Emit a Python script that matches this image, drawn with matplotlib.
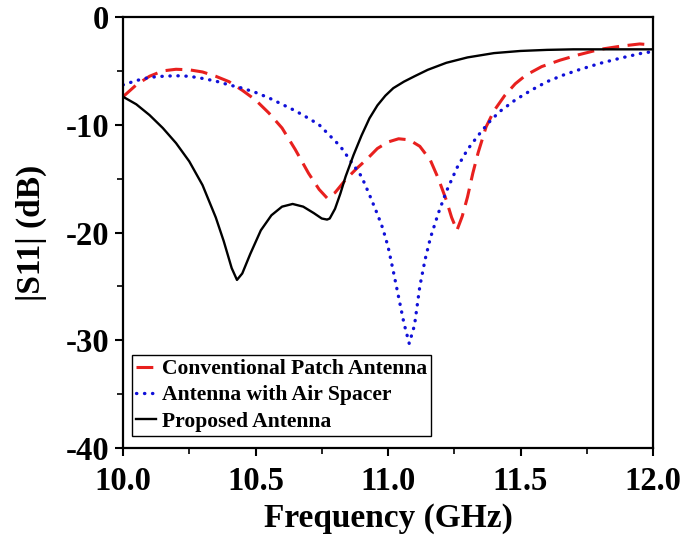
import numpy as np
import matplotlib
matplotlib.use("Agg")
import matplotlib.pyplot as plt
from matplotlib.ticker import MultipleLocator, FuncFormatter

plt.rcParams['font.family'] = ['Liberation Serif', 'DejaVu Serif']
plt.rcParams['font.weight'] = 'bold'

# frequency (GHz) / |S11| (dB)
freq_prop = [10.00, 10.05, 10.10, 10.15, 10.20, 10.25, 10.30, 10.35, 10.38, 10.41,
             10.43, 10.45, 10.48, 10.52, 10.56, 10.60, 10.64, 10.68, 10.72, 10.75,
             10.77, 10.78, 10.80, 10.82, 10.84, 10.87, 10.90, 10.93, 10.96, 10.99,
             11.02, 11.06, 11.10, 11.15, 11.22, 11.30, 11.40, 11.50, 11.60, 11.70,
             11.80, 11.90, 12.00]
s11_prop = [-7.4, -8.1, -9.1, -10.3, -11.7, -13.4, -15.6, -18.6, -20.8, -23.3,
            -24.4, -23.8, -22.0, -19.8, -18.4, -17.6, -17.35, -17.6, -18.2, -18.7,
            -18.8, -18.7, -17.8, -16.4, -14.8, -12.8, -11.0, -9.4, -8.2, -7.3,
            -6.6, -6.0, -5.5, -4.9, -4.25, -3.75, -3.35, -3.15, -3.05, -3.0,
            -3.0, -3.0, -3.0]

freq_conv = [10.00, 10.05, 10.10, 10.15, 10.20, 10.25, 10.30, 10.35, 10.40, 10.45,
             10.50, 10.55, 10.60, 10.65, 10.70, 10.74, 10.77, 10.80, 10.84, 10.88,
             10.92, 10.96, 11.00, 11.04, 11.08, 11.12, 11.16, 11.19, 11.22, 11.24,
             11.26, 11.28, 11.30, 11.32, 11.34, 11.37, 11.40, 11.44, 11.48, 11.52,
             11.58, 11.65, 11.72, 11.80, 11.88, 11.95, 12.00]
s11_conv = [-7.4, -6.3, -5.5, -5.0, -4.85, -4.9, -5.1, -5.5, -6.0, -6.8,
            -7.7, -8.9, -10.3, -12.3, -14.5, -16.0, -16.8, -16.3, -15.1, -14.1,
            -13.2, -12.2, -11.6, -11.3, -11.4, -12.0, -13.3, -15.0, -17.0, -18.6,
            -19.8, -18.5, -16.7, -14.5, -12.6, -10.2, -8.7, -7.3, -6.2, -5.4,
            -4.6, -4.0, -3.5, -3.0, -2.7, -2.5, -2.6]

freq_air = [10.00, 10.05, 10.10, 10.15, 10.20, 10.25, 10.30, 10.35, 10.40, 10.45,
            10.50, 10.55, 10.60, 10.65, 10.70, 10.74, 10.78, 10.82, 10.86, 10.90,
            10.93, 10.96, 10.98, 11.00, 11.02, 11.04, 11.06, 11.08, 11.10, 11.12,
            11.14, 11.16, 11.19, 11.22, 11.26, 11.30, 11.34, 11.38, 11.42, 11.48,
            11.54, 11.60, 11.66, 11.72, 11.80, 11.88, 11.95, 12.00]
s11_air = [-6.3, -5.9, -5.6, -5.5, -5.45, -5.5, -5.7, -5.95, -6.3, -6.6,
           -7.0, -7.5, -8.1, -8.7, -9.4, -10.0, -11.0, -12.0, -13.4, -14.8,
           -16.5, -18.3, -19.6, -21.3, -23.6, -26.0, -28.4, -30.3, -28.6, -25.0,
           -22.5, -20.5, -18.2, -16.2, -14.0, -12.3, -11.0, -9.8, -8.8, -7.7,
           -6.8, -6.0, -5.4, -4.9, -4.3, -3.8, -3.4, -3.2]

labels = ['Conventional Patch Antenna', 'Antenna with Air Spacer', 'Proposed Antenna']

fig = plt.figure(figsize=(6.85, 5.35), dpi=100)
ax = fig.add_axes([0.1796, 0.1626, 0.7737, 0.8056])

ax.plot(freq_conv, s11_conv, color='#e8201e', lw=2.2, linestyle=(0, (5.5, 2.8)), label=labels[0])
ax.plot(freq_air, s11_air, color='#1010d8', lw=2.4, linestyle=(0, (0.1, 2.3)),
        dash_capstyle='round', label=labels[1])
ax.plot(freq_prop, s11_prop, color='black', lw=1.7, label=labels[2])

ax.set_xlim(10, 12)
ax.set_ylim(-40, 0)
ax.xaxis.set_major_locator(MultipleLocator(0.5))
ax.xaxis.set_minor_locator(MultipleLocator(0.25))
ax.yaxis.set_major_locator(MultipleLocator(10))
ax.yaxis.set_minor_locator(MultipleLocator(5))
ax.xaxis.set_major_formatter(FuncFormatter(lambda v, p: '%.1f' % v))
ax.yaxis.set_major_formatter(FuncFormatter(lambda v, p: '%d' % round(v)))

ax.tick_params(which='major', direction='out', length=6, width=1.5, labelsize=23.5, pad=4)
ax.tick_params(axis='x', which='major', pad=7)
ax.tick_params(which='minor', direction='out', length=4, width=1.2)
for s in ax.spines.values():
    s.set_linewidth(1.6)

ax.set_xlabel('Frequency (GHz)', fontsize=24, fontweight='bold', labelpad=4)
ax.set_ylabel('|S11| (dB)', fontsize=24, fontweight='bold', labelpad=13)

leg = ax.legend(loc='lower left', bbox_to_anchor=(0.0, 0.008), fontsize=15.6,
                handlelength=0.9, handletextpad=0.3, labelspacing=0.28,
                borderpad=0.2, borderaxespad=0.4, fancybox=False, framealpha=1)
leg.get_frame().set_edgecolor('black')
leg.get_frame().set_linewidth(1.0)
for t in leg.get_texts():
    t.set_fontweight('bold')

fig.savefig('out.png', dpi=100)
